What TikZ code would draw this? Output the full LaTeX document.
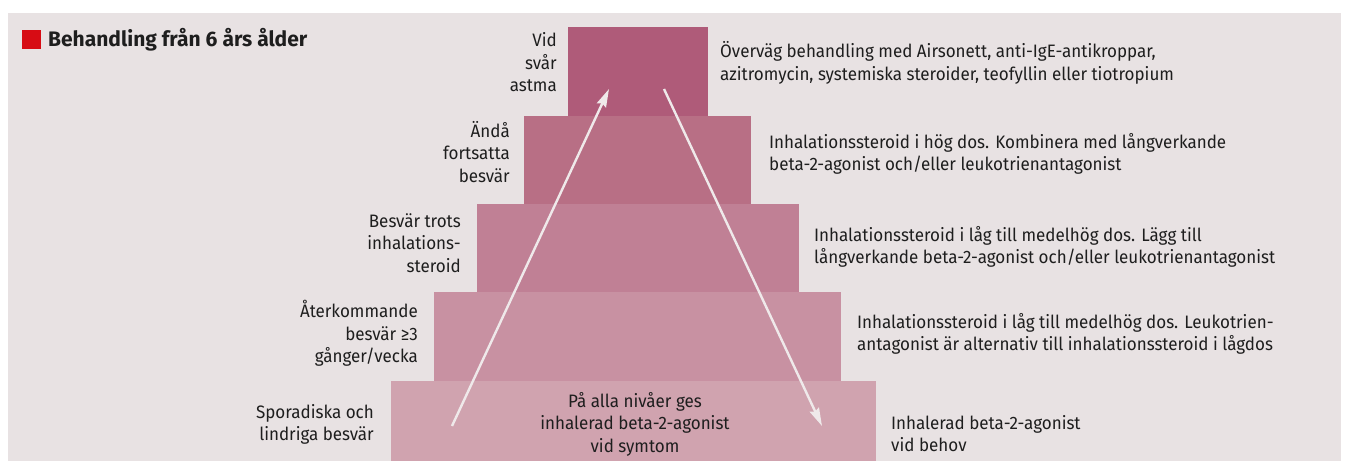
\documentclass[tikz,border=0pt]{standalone}
\usepackage{fontspec}
\setmainfont{Fira Sans}[FakeStretch=0.945]
\newfontfamily\titlefont{Fira Sans}
\usetikzlibrary{arrows.meta}
\definecolor{bg}{HTML}{E8E2E3}
\definecolor{tA}{HTML}{AF5B79}
\definecolor{tB}{HTML}{B86F85}
\definecolor{tC}{HTML}{C08095}
\definecolor{tD}{HTML}{C891A2}
\definecolor{tE}{HTML}{D0A3AF}
\definecolor{redsq}{HTML}{D70C14}
\definecolor{arr}{HTML}{EFE9EA}
\definecolor{txt}{HTML}{1E1E1E}
\tikzset{
  lbl/.style={inner sep=0, text=txt, font=\fontsize{18pt}{22.5pt}\selectfont},
  lblR/.style={lbl, anchor=base east},
  lblL/.style={lbl, anchor=base west},
  lblC/.style={lbl, anchor=base},
  arrowline/.style={draw=arr, line width=2.4pt, -{Stealth[length=18pt,width=10pt,inset=2pt]}}
}
\begin{document}
\begin{tikzpicture}[x=1pt,y=-1pt]
\useasboundingbox (0,0) rectangle (1350,461);
\fill[bg] (8,13) rectangle (1341,461);
% title
\fill[redsq] (22,30) rectangle (41,49);
\node[inner sep=0, anchor=base west, text=txt, font=\titlefont\fontsize{21pt}{24pt}\selectfont\bfseries] (title) at (48,46.7) {Behandling från 6 års ålder};
% tiers
\fill[tE] (391,381) rectangle (876,461);
\fill[tD] (434,292) rectangle (841,381);
\fill[tC] (477,204) rectangle (799,292);
\fill[tB] (524,116) rectangle (751,204);
\fill[tA] (568,27) rectangle (708,116);
% arrows
\coordinate (upS) at (452,426);
\coordinate (upE) at (609,89);
\coordinate (dnS) at (664,89);
\coordinate (dnE) at (822,426);
\draw[arrowline] (upS) -- (upE);
\draw[arrowline] (dnS) -- (dnE);
% left labels
\node[lblR] (a1) at (557,46.7) {Vid};
\node[lblR] (a2) at (557,69.2) {svår};
\node[lblR] (a3) at (557,91.7) {astma};
\node[lblR] (b1) at (510,137) {Ändå};
\node[lblR] (b2) at (510,159.5) {fortsatta};
\node[lblR] (b3) at (510,182) {besvär};
\node[lblR] (c1) at (461,227.3) {Besvär trots};
\node[lblR] (c2) at (461,249.8) {inhalations-};
\node[lblR] (c3) at (461,272.3) {steroid};
\node[lblR] (d1) at (418,317.7) {Återkommande};
\node[lblR] (d2) at (418,340.2) {besvär ≥3};
\node[lblR] (d3) at (418,362.7) {gånger/vecka};
\node[lblR] (e1) at (374,418) {Sporadiska och};
\node[lblR] (e2) at (374,440.5) {lindriga besvär};
% center
\node[lblC] (m1) at (635,407) {På alla nivåer ges};
\node[lblC] (m2) at (635,429.5) {inhalerad beta-2-agonist};
\node[lblC] (m3) at (635,452) {vid symtom};
% right labels
\node[lblL] (r1a) at (720,57.5) {Överväg behandling med Airsonett, anti-IgE-antikroppar,};
\node[lblL] (r1b) at (720,80) {azitromycin, systemiska steroider, teofyllin eller tiotropium};
\node[lblL] (r2a) at (769,148) {Inhalationssteroid i hög dos. Kombinera med långverkande};
\node[lblL] (r2b) at (769,170.5) {beta-2-agonist och/eller leukotrienantagonist};
\node[lblL] (r3a) at (814,241) {Inhalationssteroid i låg till medelhög dos. Lägg till};
\node[lblL] (r3b) at (814,263.5) {långverkande beta-2-agonist och/eller leukotrienantagonist};
\node[lblL] (r4a) at (857,328) {Inhalationssteroid i låg till medelhög dos. Leukotrien-};
\node[lblL] (r4b) at (857,350.5) {antagonist är alternativ till inhalationssteroid i lågdos};
\node[lblL] (r5a) at (891,429) {Inhalerad beta-2-agonist};
\node[lblL] (r5b) at (891,451.5) {vid behov};
\end{tikzpicture}
\end{document}
